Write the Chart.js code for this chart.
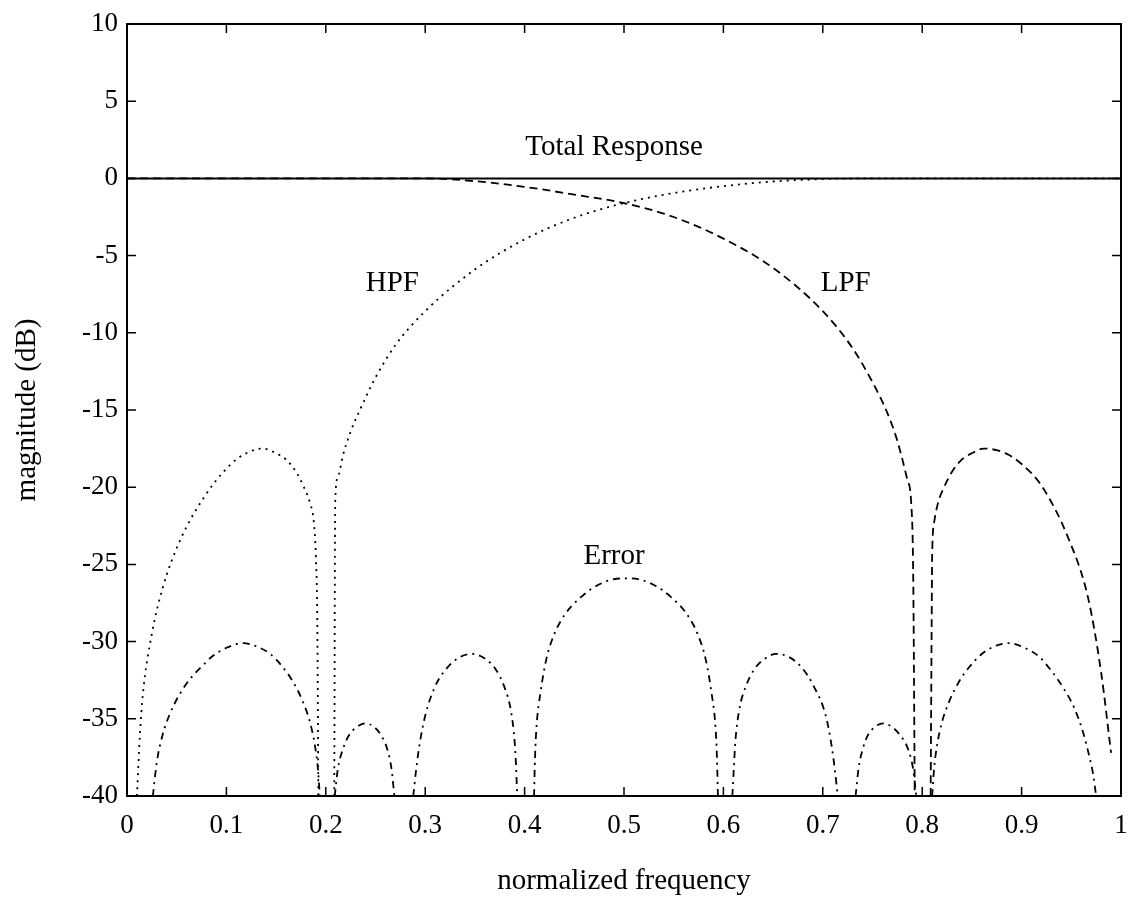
<!DOCTYPE html>
<html>
<head>
<meta charset="utf-8">
<script src="https://cdn.jsdelivr.net/npm/chart.js@4.4.0/dist/chart.umd.min.js"></script>
<style>
    body { margin: 0; background: #fff; }
    #wrap { width: 1133px; height: 905px; }
</style>
</head>
<body>
<div id="wrap"><canvas id="response-chart" width="1133" height="905"></canvas></div>
<script>
// tick labels
const xTicks = [0, 0.1, 0.2, 0.3, 0.4, 0.5, 0.6, 0.7, 0.8, 0.9, 1];
const xTickLabels = ['0', '0.1', '0.2', '0.3', '0.4', '0.5', '0.6', '0.7', '0.8', '0.9', '1'];
const yTicks = [10, 5, 0, -5, -10, -15, -20, -25, -30, -35, -40];
const yTickLabels = ['10', '5', '0', '-5', '-10', '-15', '-20', '-25', '-30', '-35', '-40'];

// total response (solid)
const totalFreq = [0, 1];
const totalDb = [0, 0];

// HPF (dotted) - null splits the notch
const hpfFreq = [0.010, 0.013, 0.016, 0.025, 0.036, 0.053, 0.077, 0.103, 0.120, 0.137, 0.150, 0.160, 0.170, 0.178, 0.184, 0.188, 0.190, 0.1915, 0.1925,
    0.200,
    0.2085, 0.2095, 0.212, 0.217, 0.225, 0.235, 0.250, 0.270, 0.300, 0.350, 0.400, 0.450, 0.500, 0.550, 0.600, 0.650, 0.700, 0.750, 1.0];
const hpfDb = [-40, -36.0, -33.4, -29.5, -26.5, -23.5, -20.7, -18.6, -17.8, -17.5, -17.8, -18.2, -19.0, -20.0, -21.0, -22.3, -24.5, -29.0, -40,
    null,
    -40, -20.9, -19.4, -18.0, -16.4, -14.9, -12.9, -10.8, -8.6, -5.9, -3.95, -2.55, -1.6, -0.95, -0.5, -0.2, -0.04, 0, 0];

// LPF (dashed)
const lpfFreq = [0, 0.300, 0.350, 0.400, 0.450, 0.500, 0.550, 0.600, 0.650, 0.700, 0.730, 0.750, 0.765, 0.775, 0.785, 0.789, 0.791, 0.7925,
    0.800,
    0.8085, 0.8095, 0.810, 0.812, 0.816, 0.822, 0.830, 0.840, 0.850, 0.862, 0.875, 0.887, 0.900, 0.920, 0.947, 0.967, 0.980, 0.990];
const lpfDb = [0, 0, -0.18, -0.55, -1.05, -1.6, -2.5, -3.9, -5.8, -8.6, -11.0, -13.2, -15.2, -17.0, -19.5, -21.1, -26.0, -40,
    null,
    -40, -29.0, -24.5, -22.3, -21.0, -20.0, -19.0, -18.2, -17.8, -17.5, -17.6, -17.9, -18.5, -19.9, -23.3, -27.2, -32.0, -37.2];

// Error (dash-dot)
const errorFreq = [0.026, 0.030, 0.036, 0.043, 0.053, 0.065, 0.077, 0.085, 0.100, 0.117, 0.130, 0.144, 0.156, 0.167, 0.177, 0.184, 0.189, 0.192, 0.194,
    0.200,
    0.209, 0.212, 0.217, 0.224, 0.232, 0.240, 0.248, 0.256, 0.262, 0.266, 0.269,
    0.278,
    0.288, 0.2905, 0.294, 0.300, 0.310, 0.322, 0.335, 0.348, 0.360, 0.371, 0.380, 0.386, 0.390, 0.3915, 0.3925,
    0.400,
    0.4095, 0.4105, 0.412, 0.416, 0.422, 0.430, 0.441, 0.457, 0.472, 0.487, 0.502, 0.517, 0.532, 0.547, 0.563, 0.574, 0.582, 0.588, 0.592, 0.5935, 0.5945,
    0.600,
    0.609, 0.6105, 0.612, 0.616, 0.622, 0.631, 0.642, 0.653, 0.666, 0.679, 0.691, 0.703, 0.709, 0.7125, 0.715,
    0.725,
    0.733, 0.736, 0.740, 0.745, 0.753, 0.761, 0.769, 0.777, 0.786, 0.791, 0.794,
    0.803,
    0.810, 0.812, 0.815, 0.820, 0.827, 0.837, 0.848, 0.860, 0.873, 0.887, 0.903, 0.918, 0.930, 0.942, 0.953, 0.962, 0.968, 0.972, 0.975];
const errorDb = [-40, -37.8, -36.0, -34.7, -33.4, -32.3, -31.5, -31.0, -30.4, -30.1, -30.3, -30.8, -31.6, -32.6, -33.9, -35.2, -36.7, -38.2, -40,
    null,
    -40, -38.3, -37.0, -36.0, -35.5, -35.3, -35.5, -36.1, -37.0, -38.2, -40,
    null,
    -40, -38.5, -36.8, -34.8, -32.9, -31.7, -31.0, -30.8, -31.1, -31.8, -33.0, -34.4, -36.5, -38.2, -40,
    null,
    -40, -37.5, -35.5, -33.3, -31.1, -29.5, -28.2, -27.1, -26.4, -26.0, -25.9, -26.0, -26.4, -27.1, -28.2, -29.5, -31.1, -33.3, -35.5, -37.5, -40,
    null,
    -40, -38.2, -36.5, -34.4, -33.0, -31.8, -31.1, -30.8, -31.0, -31.7, -32.9, -34.8, -36.8, -38.5, -40,
    null,
    -40, -38.2, -37.0, -36.1, -35.5, -35.3, -35.5, -36.0, -37.0, -38.3, -40,
    null,
    -40, -38.2, -36.7, -35.2, -33.9, -32.6, -31.6, -30.8, -30.3, -30.1, -30.4, -31.0, -31.9, -33.0, -34.3, -35.9, -37.4, -38.6, -40];

// in-plot text labels (data coordinates)
const noteTexts = ['Total Response', 'HPF', 'LPF', 'Error'];
const noteFreq = [0.49, 0.267, 0.723, 0.49];
const noteDb = [2.0, -6.8, -6.8, -24.5];

const serif = "'Liberation Serif', 'Times New Roman', serif";

function toPoints(freq, db) {
    return freq.map((f, i) => ({ x: f, y: db[i] }));
}

// ticks pointing inwards on all four sides, the frame, and the curve names
const frameAndTicks = {
    id: 'frameAndTicks',
    afterDatasetsDraw(chart) {
        const { ctx, chartArea: a, scales } = chart;
        const len = 9;
        ctx.save();
        ctx.strokeStyle = '#000';
        ctx.lineWidth = 1.5;
        ctx.beginPath();
        xTicks.forEach(v => {
            const px = scales.x.getPixelForValue(v);
            ctx.moveTo(px, a.bottom); ctx.lineTo(px, a.bottom - len);
            ctx.moveTo(px, a.top); ctx.lineTo(px, a.top + len);
        });
        yTicks.forEach(v => {
            const py = scales.y.getPixelForValue(v);
            ctx.moveTo(a.left, py); ctx.lineTo(a.left + len, py);
            ctx.moveTo(a.right, py); ctx.lineTo(a.right - len, py);
        });
        ctx.stroke();
        ctx.lineWidth = 2;
        ctx.strokeRect(a.left, a.top, a.right - a.left, a.bottom - a.top);

        ctx.fillStyle = '#000';
        ctx.font = "29px " + serif;
        ctx.textAlign = 'center';
        ctx.textBaseline = 'middle';
        noteTexts.forEach((t, i) => {
            ctx.fillText(t, scales.x.getPixelForValue(noteFreq[i]), scales.y.getPixelForValue(noteDb[i]));
        });
        ctx.restore();
    }
};

const lineStyle = {
    pointRadius: 0,
    borderColor: '#000',
    backgroundColor: '#000',
    fill: false,
    spanGaps: false,
    cubicInterpolationMode: 'monotone'
};

new Chart(document.getElementById('response-chart'), {
    type: 'line',
    data: {
        datasets: [
            { ...lineStyle, label: 'Total Response', borderWidth: 2, data: toPoints(totalFreq, totalDb) },
            { ...lineStyle, label: 'HPF', borderWidth: 1.8, borderDash: [2, 5], data: toPoints(hpfFreq, hpfDb) },
            { ...lineStyle, label: 'LPF', borderWidth: 1.8, borderDash: [8, 5], data: toPoints(lpfFreq, lpfDb) },
            { ...lineStyle, label: 'Error', borderWidth: 1.8, borderDash: [7, 5, 2, 5], data: toPoints(errorFreq, errorDb) }
        ]
    },
    options: {
        responsive: false,
        animation: false,
        layout: { padding: { top: 24, right: 12, left: 0, bottom: 0 } },
        plugins: {
            legend: { display: false },
            tooltip: { enabled: false }
        },
        scales: {
            x: {
                type: 'linear',
                min: 0,
                max: 1,
                grid: { display: false, drawTicks: false },
                border: { display: false },
                afterBuildTicks: scale => { scale.ticks = xTicks.map(v => ({ value: v })); },
                afterFit: scale => {
                    scale.height = 109;
                    scale.paddingLeft = 0;
                    scale.paddingRight = 0;
                },
                ticks: {
                    color: '#000',
                    font: { family: serif, size: 27 },
                    padding: 14,
                    maxRotation: 0,
                    autoSkip: false,
                    callback: (v, i) => xTickLabels[i]
                },
                title: {
                    display: true,
                    text: 'normalized frequency',
                    color: '#000',
                    font: { family: serif, size: 29 },
                    padding: { top: 0, bottom: 6 }
                }
            },
            y: {
                min: -40,
                max: 10,
                grid: { display: false, drawTicks: false },
                border: { display: false },
                afterBuildTicks: scale => { scale.ticks = yTicks.map(v => ({ value: v })); },
                afterFit: scale => {
                    scale.width = 127;
                    scale.paddingTop = 0;
                    scale.paddingBottom = 0;
                },
                ticks: {
                    color: '#000',
                    font: { family: serif, size: 27 },
                    padding: 9,
                    autoSkip: false,
                    callback: (v, i) => yTickLabels[i]
                },
                title: {
                    display: true,
                    text: 'magnitude (dB)',
                    color: '#000',
                    font: { family: serif, size: 29 },
                    padding: { top: 10, bottom: 0 }
                }
            }
        }
    },
    plugins: [frameAndTicks]
});
</script>
</body>
</html>
